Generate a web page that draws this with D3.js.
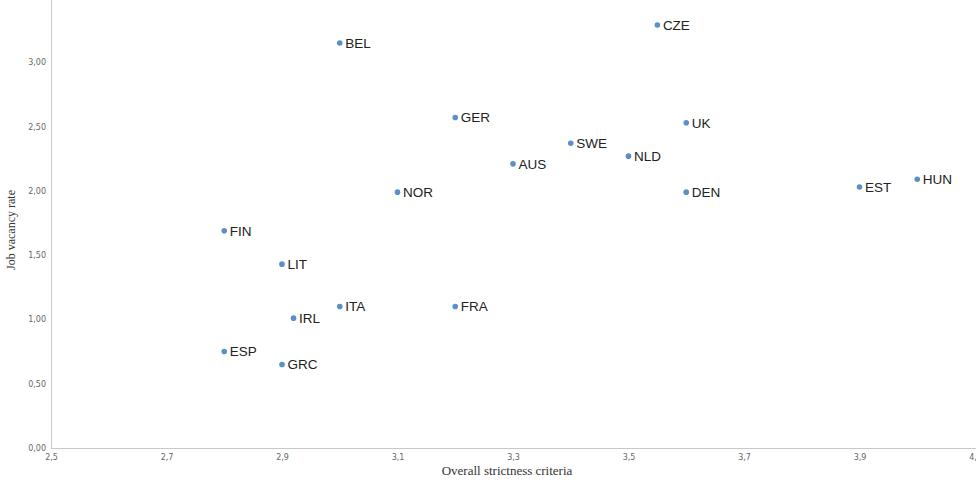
<!DOCTYPE html>
<html>
<head>
<meta charset="utf-8">
<script src="https://cdn.jsdelivr.net/npm/d3@7"></script>
<style>
  body { margin: 0; background: #fff; }
  .tick text { font-family: "DejaVu Sans", sans-serif; font-size: 8px; fill: #666; }
</style>
</head>
<body>
<svg></svg>
<script>
// countries and their values
let countries = ["BEL", "CZE", "GER", "UK", "SWE", "NLD", "AUS", "NOR", "DEN", "EST", "HUN",
                 "FIN", "LIT", "ITA", "FRA", "IRL", "ESP", "GRC"]
let strictness = [3.0, 3.55, 3.2, 3.6, 3.4, 3.5, 3.3, 3.1, 3.6, 3.9, 4.0,
                  2.8, 2.9, 3.0, 3.2, 2.92, 2.8, 2.9]
let vacancy = [3.15, 3.29, 2.57, 2.53, 2.37, 2.27, 2.21, 1.99, 1.99, 2.03, 2.09,
               1.69, 1.43, 1.10, 1.10, 1.01, 0.75, 0.65]

let xTicks = [2.5, 2.7, 2.9, 3.1, 3.3, 3.5, 3.7, 3.9, 4.1]
let yTicks = [0, 0.5, 1.0, 1.5, 2.0, 2.5, 3.0]

let width = 976
let height = 481

let svg = d3.select("svg")
svg.attr("width", width)
   .attr("height", height)

let values = countries.map((c, i) => [c, strictness[i], vacancy[i]])

let xScale = d3.scaleLinear()
                .domain([2.5, 4.1])
                .range([51, 975])

let yScale = d3.scaleLinear()
                .domain([0, 3.5])
                .range([448, -2])

// comma decimals like the original
let commaFmt = (digits) => (d) => d.toFixed(digits).replace(".", ",")

let xAxis = d3.axisBottom(xScale)
              .tickValues(xTicks)
              .tickFormat(commaFmt(1))
              .tickSize(0)
              .tickPadding(6)

let yAxis = d3.axisLeft(yScale)
              .tickValues(yTicks)
              .tickFormat(commaFmt(2))
              .tickSize(0)
              .tickPadding(5)

let gx = svg.append("g")
            .attr("transform", "translate(0," + yScale(0) + ")")
            .call(xAxis)
gx.select(".domain").attr("stroke", "#c8c8c8").attr("d", "M51,0.5H976")

let gy = svg.append("g")
            .attr("transform", "translate(" + xScale(2.5) + ",0)")
            .call(yAxis)
gy.select(".domain").attr("stroke", "#c8c8c8").attr("d", "M0.5,0V448")

// axis titles
svg.append("text")
    .attr("x", 507)
    .attr("y", 475)
    .attr("text-anchor", "middle")
    .style("font-family", "'Liberation Serif', serif")
    .style("font-size", "13px")
    .style("fill", "#333")
    .text("Overall strictness criteria")

svg.append("text")
    .attr("transform", "translate(15,230) rotate(-90)")
    .attr("text-anchor", "middle")
    .style("font-family", "'Liberation Serif', serif")
    .style("font-size", "12px")
    .style("fill", "#333")
    .text("Job vacancy rate")

// points
svg.selectAll("circle")
    .data(values)
    .enter()
    .append("circle")
    .attr("cx", (d) => xScale(d[1]))
    .attr("cy", (d) => yScale(d[2]))
    .attr("r", 2.8)
    .attr("fill", "#5b8fc8")

// country labels
svg.selectAll("text.lbl")
    .data(values)
    .enter()
    .append("text")
    .attr("class", "lbl")
    .attr("x", (d) => xScale(d[1]) + 5.5)
    .attr("y", (d) => yScale(d[2]) + 4.8)
    .style("font-family", "'Liberation Sans', Arial, sans-serif")
    .style("font-size", "13.5px")
    .style("fill", "#222")
    .text((d) => d[0])
</script>
</body>
</html>
